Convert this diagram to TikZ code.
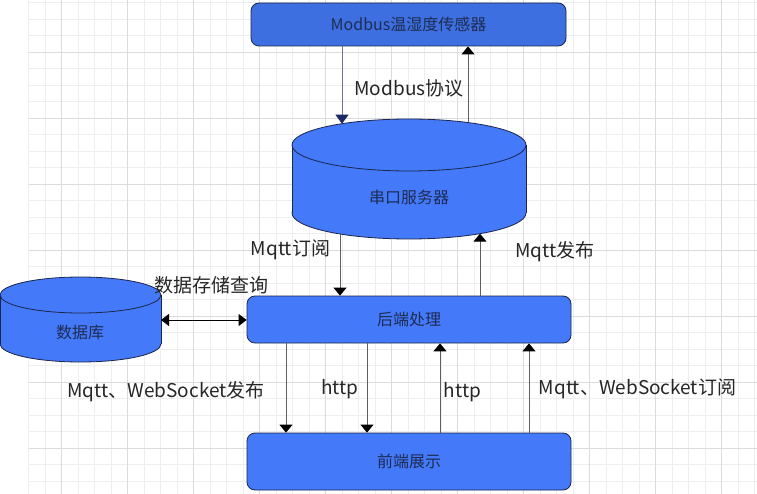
\documentclass[tikz,border=0pt]{standalone}
\usepackage{fontspec}
\setmainfont{Noto Sans CJK SC}
\usetikzlibrary{arrows.meta}
\definecolor{boxblue}{RGB}{68,121,249}
\definecolor{topblue}{RGB}{62,111,224}
\definecolor{boxline}{RGB}{28,38,74}
\definecolor{boxtext}{RGB}{30,44,82}
\definecolor{linkgray}{RGB}{95,95,95}
\definecolor{linknavy}{RGB}{110,116,152}
\definecolor{headnavy}{RGB}{27,40,98}
\definecolor{gridminor}{RGB}{238,238,238}
\definecolor{gridmajor}{RGB}{220,220,220}

\begin{document}
\begin{tikzpicture}[
  x=1pt,y=-1pt,
  every node/.style={font=\fontsize{19}{23}\selectfont,text=black!85},
  block/.style={draw=boxline,line width=.8pt,fill=boxblue,rounded corners=8pt,
    font=\fontsize{16}{20}\selectfont,text=boxtext,inner sep=0pt},
  drum/.style={draw=boxline,line width=.8pt,fill=boxblue},
  drumtext/.style={font=\fontsize{16}{20}\selectfont,text=boxtext},
  link/.style={-{Triangle[length=8pt,width=13pt,color=black]},line width=.9pt,linkgray},
  modlink/.style={-{Triangle[length=9pt,width=13pt,color=headnavy]},line width=.9pt,linknavy},
  both/.style={{Triangle[length=8pt,width=12pt]}-{Triangle[length=8pt,width=12pt]},line width=.9pt,black},
  minor/.style={line width=.8pt,gridminor},
  major/.style={line width=.8pt,gridmajor}
]
\path[use as bounding box] (0,0) rectangle (757,494);
\fill[white] (0,0) rectangle (757,494);

% Background grid of the drawing canvas.
\foreach \i in {0,...,44} \draw[minor] ({28.7+16.5*\i},0) -- ({28.7+16.5*\i},494);
\foreach \i in {0,...,29} \draw[minor] (28.7,{2.8+16.5*\i}) -- (757,{2.8+16.5*\i});
\foreach \i in {0,...,10} \draw[major] ({61.7+66*\i},0) -- ({61.7+66*\i},494);
\foreach \i in {0,...,6} \draw[major] (28.7,{52.3+66*\i}) -- (757,{52.3+66*\i});

% Boxes.
\node[block,fill=topblue,minimum width=315pt,minimum height=43pt] (sensor) at (408.5,24.5) {Modbus温湿度传感器};
\node[block,minimum width=324pt,minimum height=47pt] (backend) at (409,319.5) {后端处理};
\node[block,minimum width=324pt,minimum height=57pt] (frontend) at (409,461.5) {前端展示};

% Serial server drum.
\filldraw[drum] (409,213) ellipse[x radius=117pt,y radius=26pt];
\fill[boxblue] (292,145) rectangle (526,213);
\draw[boxline,line width=.8pt] (292,145) -- (292,213) (526,145) -- (526,213);
\filldraw[drum] (409,145) ellipse[x radius=117pt,y radius=26pt];
\node[drumtext] (serial) at (409,197) {串口服务器};
\coordinate (sv-n1) at (342,123.7);
\coordinate (sv-n2) at (468,122.5);
\coordinate (sv-s1) at (340,234);
\coordinate (sv-s2) at (480,233.7);

% Database drum, cut by the left edge.
\filldraw[drum] (80.5,344) ellipse[x radius=80.5pt,y radius=18pt];
\fill[boxblue] (0,295) rectangle (161,344);
\draw[boxline,line width=.8pt] (0,295) -- (0,344) (161,295) -- (161,344);
\filldraw[drum] (80.5,295) ellipse[x radius=80.5pt,y radius=18pt];
\node[drumtext] (db) at (80,332) {数据库};
\coordinate (db-e) at (161,320);

% Sensor <-> serial server.
\draw[modlink] (sensor.south -| sv-n1) -- (sv-n1);
\draw[link] (sv-n2) -- (sensor.south -| sv-n2);
\node (lbl-modbus) at (409,88) {Modbus协议};

% Serial server <-> backend.
\draw[link] (sv-s1) -- (backend.north -| sv-s1);
\draw[link] (backend.north -| sv-s2) -- (sv-s2);
\node (lbl-sub) at (290.5,250) {Mqtt订阅};
\node (lbl-pub) at (555,252) {Mqtt发布};

% Database <-> backend.
\draw[both] (db-e) -- (backend.west |- db-e);
\node (lbl-store) at (211,285) {数据存储查询};

% Backend <-> frontend.
\foreach \x in {286,367} \draw[link] (backend.south -| \x,0) -- (frontend.north -| \x,0);
\foreach \x in {440,529} \draw[link] (frontend.north -| \x,0) -- (backend.south -| \x,0);
\node (lbl-wspub) at (166,392) {Mqtt、WebSocket发布};
\node (lbl-http1) at (340,389) {http};
\node (lbl-http2) at (462.5,392) {http};
\node (lbl-wssub) at (637.5,389) {Mqtt、WebSocket订阅};
\end{tikzpicture}
\end{document}
